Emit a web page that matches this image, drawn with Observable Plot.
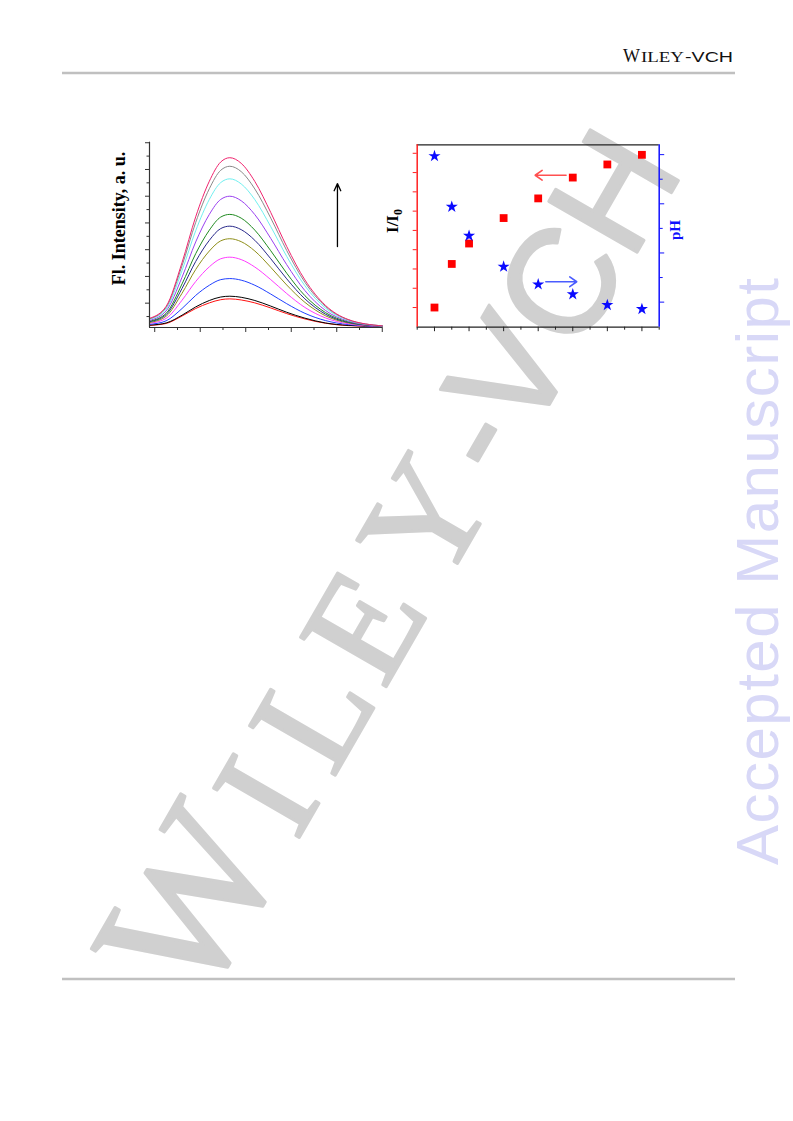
<!DOCTYPE html>
<html><head><meta charset="utf-8">
<script src="https://cdn.jsdelivr.net/npm/d3@7"></script>
<script src="https://cdn.jsdelivr.net/npm/@observablehq/plot@0.6"></script>
<style>
html,body{margin:0;padding:0;background:#fff;}
#page{position:relative;width:793px;height:1121px;overflow:hidden;}
#page svg{position:absolute;overflow:visible;}
</style></head><body><div id="page">
<svg id="bg" style="left:0;top:0" width="793" height="1121">
  <text y="62" fill="#111"><tspan x="623" font-family="Liberation Serif" font-size="18">W</tspan><tspan x="641" font-family="Liberation Serif" font-size="14" textLength="43" lengthAdjust="spacingAndGlyphs">ILEY</tspan><tspan x="685" font-family="Liberation Sans" font-size="14" textLength="48" lengthAdjust="spacingAndGlyphs">-VCH</tspan></text>
  <line x1="62" x2="735" y1="73" y2="73" stroke="#c0c0c0" stroke-width="2.5"/>
  <line x1="62" x2="735" y1="979" y2="979" stroke="#c0c0c0" stroke-width="2.5"/>
  <text transform="translate(199,1011) rotate(-60)" fill="#d0d0d0" stroke="#d0d0d0" stroke-width="3" stroke-linejoin="round"><tspan x="0" font-family="Liberation Serif" font-size="190">W</tspan><tspan x="195" font-family="Liberation Serif" font-size="151">I</tspan><tspan x="268" font-family="Liberation Serif" font-size="151">L</tspan><tspan x="370" font-family="Liberation Serif" font-size="151">E</tspan><tspan x="485" font-family="Liberation Serif" font-size="151">Y</tspan><tspan x="609" font-family="Liberation Sans" font-size="148">-VCH</tspan></text>
  <text transform="translate(778,865) rotate(-90)" fill="#d8d8f7" font-family="Liberation Sans" font-size="60" textLength="587" lengthAdjust="spacing">Accepted Manuscript</text>
</svg>
</div>
<script>
// ---------- Left panel: fluorescence spectra ----------
const wavelength = [458, 465, 472, 478, 484, 489, 493, 498, 504, 511, 518, 526, 535, 545, 560];
const s01 = [44, 88, 252, 423, 556, 628, 644, 623, 555, 439, 312, 187, 92, 39, 15];
const s02 = [42, 84, 240, 402, 528, 597, 612, 592, 527, 418, 297, 178, 88, 38, 15];
const s03 = [40, 78, 222, 371, 488, 551, 565, 546, 487, 386, 275, 165, 82, 36, 15];
const s04 = [36, 71, 197, 329, 432, 488, 500, 483, 431, 342, 244, 147, 73, 33, 14];
const s05 = [33, 62, 172, 285, 373, 422, 432, 418, 373, 296, 212, 128, 65, 30, 14];
const s06 = [31, 57, 155, 256, 335, 379, 388, 375, 335, 266, 191, 116, 59, 28, 14];
const s07 = [28, 51, 137, 226, 295, 333, 341, 330, 295, 234, 168, 103, 53, 26, 14];
const s08 = [25, 43, 111, 181, 236, 266, 272, 263, 235, 188, 136, 84, 45, 23, 13];
const s09 = [21, 34, 80, 129, 167, 188, 192, 186, 167, 134, 98, 62, 35, 20, 13];
const s10 = [18, 26, 55, 86, 110, 123, 126, 122, 110, 89, 66, 44, 26, 17, 13];
const s11 = [17, 24, 52, 80, 101, 113, 116, 112, 101, 82, 61, 41, 25, 16, 13];
const spectraSeries = [s11, s10, s09, s08, s07, s06, s05, s04, s03, s02, s01];
const spectraColors = ["#ff1010", "#000000", "#2040ff", "#ff3cff", "#8f8f1a", "#28288a", "#1f8a1f", "#9a40f0", "#70f0f0", "#8a8a8a", "#f0246e"];
const leftXMajor = [460, 480, 500, 520, 540, 560];
const leftXMinor = [470, 490, 510, 530, 550];
const leftYMajor = [100, 200, 300, 400, 500, 600, 700];
const leftYMinor = [50, 150, 250, 350, 450, 550, 650];
const leftArrow = [{x1: 540.3, y1: 312, x2: 540.3, y2: 547}];
const leftLabel = "Fl. Intensity, a. u.";

// ---------- Right panel: I/I0 and pH ----------
const amount = [0, 0.5, 1, 2, 3, 4, 5, 6];
const ratioI = [1.0, 2.13, 2.66, 3.32, 3.83, 4.37, 4.71, 4.96];
const pHvalues = [6.97, 5.94, 5.35, 4.72, 4.36, 4.16, 3.94, 3.86];
const rightXMajor = [0, 1, 2, 3, 4, 5, 6];
const rightXMinor = [-0.5, 0.5, 1.5, 2.5, 3.5, 4.5, 5.5, 6.5];
const ratioMajor = [1, 2, 3, 4, 5];
const ratioMinor = [1.5, 2.5, 3.5, 4.5];
const pHMajor = [4, 5, 6, 7];
const pHMinor = [4.5, 5.5, 6.5];
const redArrow = [{x1: 3.806, x2: 2.912, y: 4.43}];
const blueArrow = [{x1: 3.221, x2: 4.115, y: 4.414}];

const page = document.getElementById("page");
const blank = () => "";

function place(svg, left, top) {
  svg.style.left = left + "px";
  svg.style.top = top + "px";
  svg.style.background = "transparent";
  svg.style.overflow = "visible";
  page.appendChild(svg);
  return svg;
}

// Left plot
const specRows = [];
spectraSeries.forEach((s, i) => s.forEach((v, j) => specRows.push({wl: wavelength[j], v, k: i})));
const leftPlot = Plot.plot({
  width: 300, height: 230,
  marginLeft: 49, marginRight: 18, marginTop: 21.7, marginBottom: 23,
  x: {domain: [457.7, 560.1]},
  y: {domain: [9, 702]},
  marks: [
    ...spectraSeries.map((s, i) => Plot.line(specRows.filter(d => d.k === i), {x: "wl", y: "v", stroke: spectraColors[i], strokeWidth: 1, curve: "monotone-x"})),
    Plot.ruleX([457.7], {stroke: "#333", strokeWidth: 1.2}),
    Plot.ruleY([9], {stroke: "#333", strokeWidth: 1.2}),
    Plot.axisX(leftXMajor, {tickSize: 5, tickFormat: blank, stroke: "#333", label: null}),
    Plot.axisX(leftXMinor, {tickSize: 3, tickFormat: blank, stroke: "#333", label: null}),
    Plot.axisY(leftYMajor, {tickSize: 4, tickFormat: blank, stroke: "#333", label: null}),
    Plot.axisY(leftYMinor, {tickSize: 2.5, tickFormat: blank, stroke: "#333", label: null}),
    Plot.arrow(leftArrow, {x1: "x1", y1: "y1", x2: "x2", y2: "y2", stroke: "#000", strokeWidth: 1.3, headLength: 9, headAngle: 50})
  ]
});
place(leftPlot, 100, 120);
d3.select(leftPlot).append("text")
  .attr("transform", "translate(25,98.5) rotate(-90)")
  .attr("text-anchor", "middle")
  .attr("font-family", "Liberation Serif").attr("font-weight", "bold").attr("font-size", 18)
  .attr("fill", "#000").text(leftLabel);

// Right plot, I/I0 scale
const ratioRows = amount.map((a, i) => ({a, r: ratioI[i]}));
const pHRows = amount.map((a, i) => ({a, p: pHvalues[i]}));
const common = {width: 330, height: 230, marginLeft: 46.7, marginRight: 41.3, marginTop: 24.3, marginBottom: 23.3};
const rightA = Plot.plot({
  ...common,
  x: {domain: [-0.5, 6.5]},
  y: {domain: [0.49, 5.22]},
  marks: [
    Plot.ruleY([5.22], {stroke: "#222", strokeWidth: 1.3}),
    Plot.ruleY([0.49], {stroke: "#222", strokeWidth: 1.3}),
    Plot.ruleX([-0.5], {stroke: "#ff2020", strokeWidth: 1.5}),
    Plot.axisX(rightXMajor, {tickSize: 4.5, tickFormat: blank, stroke: "#222", label: null}),
    Plot.axisX(rightXMinor, {tickSize: 3, tickFormat: blank, stroke: "#222", label: null}),
    Plot.axisY(ratioMajor, {tickSize: 4, tickFormat: blank, stroke: "#ff2020", label: null}),
    Plot.axisY(ratioMinor, {tickSize: 4, tickFormat: blank, stroke: "#ff2020", label: null}),
    Plot.arrow(redArrow, {x1: "x1", x2: "x2", y1: "y", y2: "y", stroke: "#ff5050", strokeWidth: 1.6, headLength: 8, headAngle: 70}),
    Plot.dot(ratioRows, {x: "a", y: "r", symbol: "square", r: 4.4, fill: "#ff0000", stroke: "none"})
  ]
});
place(rightA, 370, 120);
const lab = d3.select(rightA).append("text")
  .attr("transform", "translate(28,101) rotate(-90)")
  .attr("text-anchor", "middle")
  .attr("font-family", "Liberation Serif").attr("font-weight", "bold").attr("font-size", 17).attr("fill", "#000");
lab.append("tspan").text("I/I");
lab.append("tspan").attr("font-size", 12).attr("dy", 4).text("0");

// Right plot, pH scale
const rightB = Plot.plot({
  ...common,
  x: {domain: [-0.5, 6.5], axis: null},
  y: {domain: [3.49, 7.2]},
  marks: [
    Plot.ruleX([6.5], {stroke: "#1010ff", strokeWidth: 1.5}),
    Plot.axisY(pHMajor, {anchor: "right", tickSize: 4.5, tickFormat: blank, stroke: "#1010ff", label: null}),
    Plot.axisY(pHMinor, {anchor: "right", tickSize: 3, tickFormat: blank, stroke: "#1010ff", label: null}),
    Plot.arrow(blueArrow, {x1: "x1", x2: "x2", y1: "y", y2: "y", stroke: "#4a5cff", strokeWidth: 1.6, headLength: 8, headAngle: 70}),
    Plot.dot(pHRows, {x: "a", y: "p", symbol: "star", r: 3.8, fill: "#0a0aff", stroke: "none"})
  ]
});
place(rightB, 370, 120);
d3.select(rightB).append("text")
  .attr("transform", "translate(310,110) rotate(-90)")
  .attr("text-anchor", "middle")
  .attr("font-family", "Liberation Serif").attr("font-weight", "bold").attr("font-size", 15)
  .attr("fill", "#1010ff").text("pH");
</script>
</body></html>
